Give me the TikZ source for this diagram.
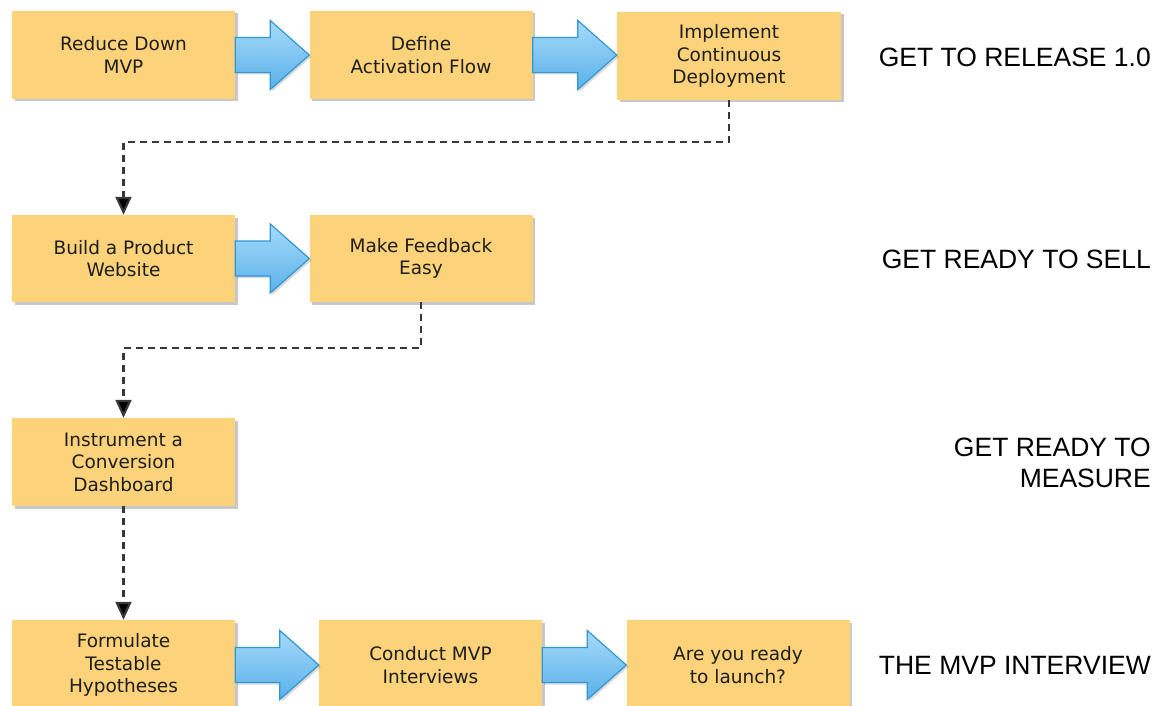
\documentclass[tikz,border=0pt]{standalone}
\usepackage{fontspec}
\setmainfont{DejaVu Sans}
\newfontfamily\labelfont{Liberation Sans}
\usetikzlibrary{arrows.meta,shadows,calc}

\definecolor{boxfill}{HTML}{FCD27A}
\definecolor{boxtext}{HTML}{1E1E1E}
\definecolor{arrowtop}{HTML}{A6DAFA}
\definecolor{arrowbot}{HTML}{5AB1EA}
\definecolor{arrowedge}{HTML}{2F97D6}
\definecolor{dashgray}{HTML}{383838}

\tikzset{
  taskbox/.style={rectangle, fill=boxfill, minimum width=223pt, minimum height=88pt,
    inner sep=2pt, align=center, text=boxtext,
    font=\fontsize{18.5}{22.5}\selectfont,
    drop shadow={shadow xshift=2.5pt, shadow yshift=-2.5pt, opacity=0.22, fill=black}},
  fatarrow/.style={draw=arrowedge, line width=1.2pt, line join=miter,
    top color=arrowtop, bottom color=arrowbot,
    drop shadow={shadow xshift=2pt, shadow yshift=-2pt, opacity=0.15, fill=black}},
  dashconn/.style={draw=dashgray, line width=2.2pt, dash pattern=on 7pt off 5pt,
    -{Triangle[width=16pt,length=18pt,fill=black]}},
  phase/.style={anchor=east, inner sep=0pt, align=right, text=black,
    font=\labelfont\fontsize{26.5}{31}\selectfont}
}

% block arrow from the east side of #1 to the west side of #2
\newcommand\blockarrow[2]{%
  \path[fatarrow] let \p1=(#1.east), \p2=(#2.west), \n1={\x2-39pt} in
    (\x1,\y1+17.5pt) -- (\n1,\y1+17.5pt) -- (\n1,\y1+34.5pt) -- (\x2,\y1)
    -- (\n1,\y1-34.5pt) -- (\n1,\y1-17.5pt) -- (\x1,\y1-17.5pt) -- cycle;}

\begin{document}
\begin{tikzpicture}[x=1pt,y=-1pt]
  \useasboundingbox (0,0) rectangle (1161,706);
  \clip (0,0) rectangle (1161,706);
  \fill[white] (0,0) rectangle (1161,706);

  % row 1
  \node[taskbox] (b1) at (123.5,55) {Reduce Down\\MVP};
  \node[taskbox] (b2) at (421,55) {Define\\Activation Flow};
  \node[taskbox, minimum width=224pt] (b3) at (729,56) {Implement\\Continuous\\Deployment};
  % row 2
  \node[taskbox, minimum height=87pt] (b4) at (123.5,258.5) {Build a Product\\Website};
  \node[taskbox, minimum height=87pt] (b5) at (421,258.5) {Make Feedback\\Easy};
  % row 3
  \node[taskbox] (b6) at (123.5,462) {Instrument a\\Conversion\\Dashboard};
  % row 4
  \node[taskbox, minimum height=90pt] (b7) at (123.5,665) {Formulate\\Testable\\Hypotheses};
  \node[taskbox, minimum height=90pt] (b8) at (430.5,665) {Conduct MVP\\Interviews};
  \node[taskbox, minimum height=90pt] (b9) at (738,665) {Are you ready\\to launch?};

  % block arrows within each row
  \blockarrow{b1}{b2}
  \blockarrow{b2}{b3}
  \blockarrow{b4}{b5}
  \blockarrow{b7}{b8}
  \blockarrow{b8}{b9}

  % dashed links between rows
  \draw[dashconn] (b3.south) -- ++(0,42) -| (b4.north);
  \draw[dashconn] (b5.south) -- ++(0,46) -| (b6.north);
  \draw[dashconn] (b6.south) -- (b7.north);

  % phase labels
  \node[phase] (p1) at (1151,57.5) {GET TO RELEASE 1.0};
  \node[phase] (p2) at (1151,259.5) {GET READY TO SELL};
  \node[phase] (p3) at (1151,462.5) {GET READY TO\\MEASURE};
  \node[phase] (p4) at (1151,665.5) {THE MVP INTERVIEW};
\end{tikzpicture}
\end{document}
